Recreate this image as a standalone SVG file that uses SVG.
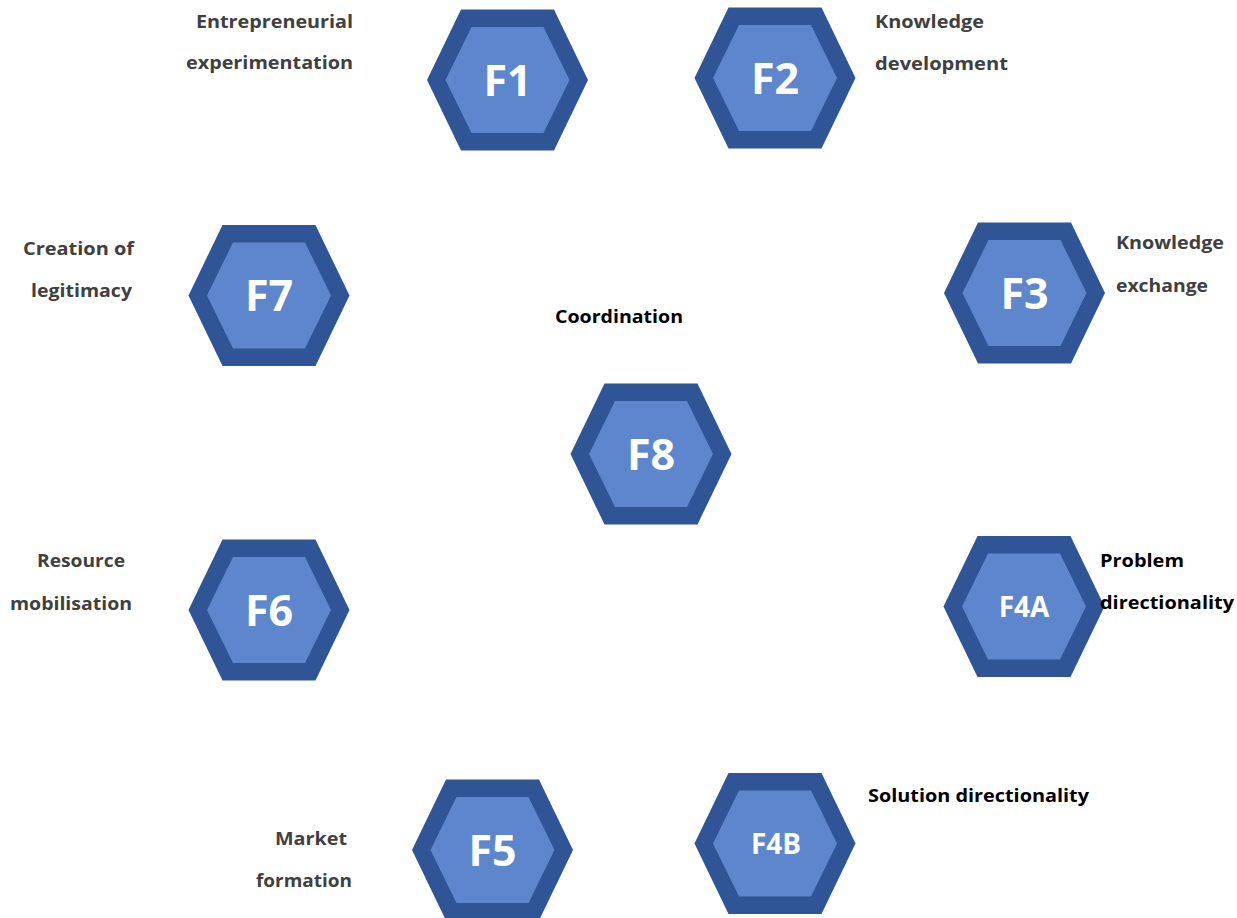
<svg xmlns="http://www.w3.org/2000/svg" xmlns:xlink="http://www.w3.org/1999/xlink" width="1237" height="918" viewBox="0 0 1237 918">
<style>
.outer{fill:#2F5597}
.inner{fill:#5E86CC}
.fl{font-family:"Open Sans","Liberation Sans",sans-serif;font-weight:bold;fill:#FFFFFF;text-anchor:middle}
.big{font-size:43px}
.small{font-size:28px}
.lbl{font-family:"Open Sans","Liberation Sans",sans-serif;font-weight:bold;font-size:18px}
.grey{fill:#404040}
.blk{fill:#000000}
</style>
<defs>
<polygon id="hexO" points="-80.5,0 -46.5,-70.5 46.5,-70.5 80.5,0 46.5,70.5 -46.5,70.5"/>
<polygon id="hexI" points="-62,0 -36,-53 36,-53 62,0 36,53 -36,53"/>
</defs>
<rect width="1237" height="918" fill="#FFFFFF"/>
<g id="connectors"/>
<g id="F1" transform="translate(507.5,80)">
<use xlink:href="#hexO" class="outer"/><use xlink:href="#hexI" class="inner"/>
<text class="fl big" x="0" y="15.5">F1</text>
</g>
<g id="F2" transform="translate(775,78)">
<use xlink:href="#hexO" class="outer"/><use xlink:href="#hexI" class="inner"/>
<text class="fl big" x="0" y="15.5">F2</text>
</g>
<g id="F3" transform="translate(1024.5,293)">
<use xlink:href="#hexO" class="outer"/><use xlink:href="#hexI" class="inner"/>
<text class="fl big" x="0" y="15.5">F3</text>
</g>
<g id="F4A" transform="translate(1024,606.5)">
<use xlink:href="#hexO" class="outer"/><use xlink:href="#hexI" class="inner"/>
<text class="fl small" x="0" y="10.5">F4A</text>
</g>
<g id="F4B" transform="translate(775,843.5)">
<use xlink:href="#hexO" class="outer"/><use xlink:href="#hexI" class="inner"/>
<text class="fl small" x="1" y="10.5">F4B</text>
</g>
<g id="F5" transform="translate(492.5,850)">
<use xlink:href="#hexO" class="outer"/><use xlink:href="#hexI" class="inner"/>
<text class="fl big" x="0" y="15.5">F5</text>
</g>
<g id="F6" transform="translate(269,610)">
<use xlink:href="#hexO" class="outer"/><use xlink:href="#hexI" class="inner"/>
<text class="fl big" x="0" y="15.5">F6</text>
</g>
<g id="F7" transform="translate(269,295.5)">
<use xlink:href="#hexO" class="outer"/><use xlink:href="#hexI" class="inner"/>
<text class="fl big" x="0" y="15.5">F7</text>
</g>
<g id="F8" transform="translate(651,454)">
<use xlink:href="#hexO" class="outer"/><use xlink:href="#hexI" class="inner"/>
<text class="fl big" x="0" y="15.5">F8</text>
</g>
<g id="labels">
<text class="lbl grey" x="196" y="28" textLength="157" lengthAdjust="spacingAndGlyphs">Entrepreneurial</text>
<text class="lbl grey" x="186" y="69" textLength="167" lengthAdjust="spacingAndGlyphs">experimentation</text>
<text class="lbl grey" x="875" y="28" textLength="109" lengthAdjust="spacingAndGlyphs">Knowledge</text>
<text class="lbl grey" x="875" y="70" textLength="133" lengthAdjust="spacingAndGlyphs">development</text>
<text class="lbl grey" x="23" y="255" textLength="111" lengthAdjust="spacingAndGlyphs">Creation of</text>
<text class="lbl grey" x="31" y="297" textLength="101" lengthAdjust="spacingAndGlyphs">legitimacy</text>
<text class="lbl grey" x="1116" y="249" textLength="108" lengthAdjust="spacingAndGlyphs">Knowledge</text>
<text class="lbl grey" x="1116" y="292" textLength="92" lengthAdjust="spacingAndGlyphs">exchange</text>
<text class="lbl blk" x="555" y="323" textLength="128" lengthAdjust="spacingAndGlyphs">Coordination</text>
<text class="lbl grey" x="37" y="567" textLength="88" lengthAdjust="spacingAndGlyphs">Resource</text>
<text class="lbl grey" x="10" y="610" textLength="122" lengthAdjust="spacingAndGlyphs">mobilisation</text>
<text class="lbl blk" x="1100" y="567" textLength="84" lengthAdjust="spacingAndGlyphs">Problem</text>
<text class="lbl blk" x="1100" y="609" textLength="134" lengthAdjust="spacingAndGlyphs">directionality</text>
<text class="lbl blk" x="868" y="802" textLength="221" lengthAdjust="spacingAndGlyphs">Solution directionality</text>
<text class="lbl grey" x="275" y="845" textLength="72" lengthAdjust="spacingAndGlyphs">Market</text>
<text class="lbl grey" x="256" y="887" textLength="96" lengthAdjust="spacingAndGlyphs">formation</text>
</g>
</svg>
